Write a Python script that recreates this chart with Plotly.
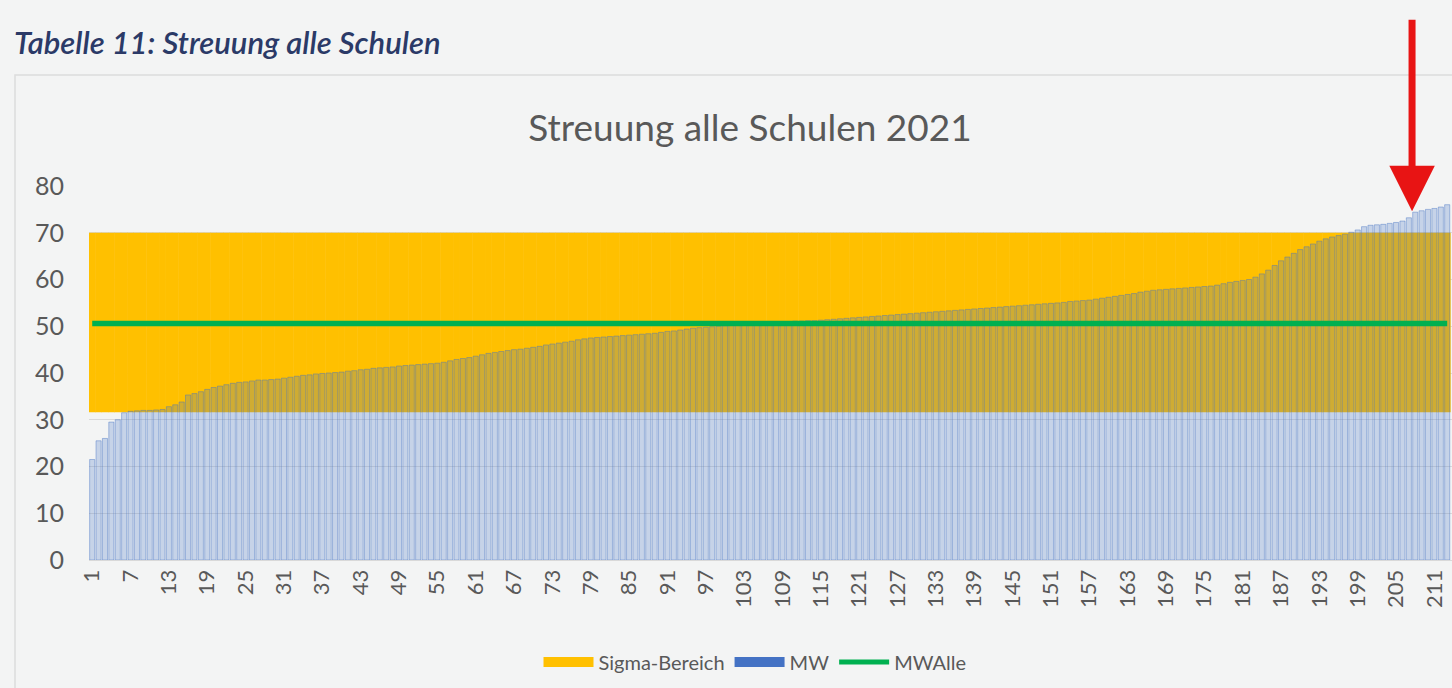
import plotly.graph_objects as go

# ---- data ----
mw_values = [
    21.5, 25.5, 26.0, 29.5, 30.0, 31.5, 31.8, 31.9, 32.0, 32.0,
    32.1, 32.2, 32.8, 33.2, 33.8, 35.3, 35.6, 36.0, 36.5, 36.9,
    37.2, 37.5, 37.8, 38.0, 38.1, 38.3, 38.5, 38.5, 38.6, 38.7,
    38.9, 39.1, 39.3, 39.5, 39.6, 39.8, 39.9, 40.0, 40.1, 40.2,
    40.4, 40.5, 40.7, 40.8, 41.0, 41.1, 41.2, 41.3, 41.5, 41.6,
    41.7, 41.8, 41.9, 42.0, 42.1, 42.3, 42.6, 42.9, 43.1, 43.3,
    43.6, 43.9, 44.2, 44.4, 44.6, 44.8, 45.0, 45.1, 45.3, 45.5,
    45.7, 46.0, 46.2, 46.4, 46.6, 46.8, 47.1, 47.3, 47.5, 47.6,
    47.7, 47.8, 47.9, 48.0, 48.1, 48.2, 48.3, 48.4, 48.5, 48.7,
    48.9, 49.0, 49.2, 49.4, 49.6, 49.7, 49.8, 49.9, 50.0, 50.1,
    50.2, 50.3, 50.4, 50.5, 50.6, 50.7, 50.8, 50.9, 51.0, 51.0,
    51.1, 51.1, 51.2, 51.2, 51.3, 51.4, 51.5, 51.6, 51.7, 51.8,
    51.9, 52.0, 52.1, 52.2, 52.3, 52.4, 52.5, 52.6, 52.7, 52.8,
    52.9, 53.0, 53.1, 53.2, 53.3, 53.4, 53.5, 53.6, 53.7, 53.8,
    53.9, 54.0, 54.1, 54.2, 54.3, 54.4, 54.5, 54.6, 54.7, 54.8,
    54.9, 55.0, 55.1, 55.3, 55.4, 55.5, 55.6, 55.8, 56.0, 56.2,
    56.4, 56.6, 56.8, 57.0, 57.3, 57.5, 57.7, 57.8, 57.9, 58.0,
    58.1, 58.2, 58.3, 58.4, 58.5, 58.6, 58.8, 59.1, 59.4, 59.6,
    59.8, 60.0, 60.5, 61.2, 62.0, 63.0, 64.0, 64.8, 65.6, 66.4,
    67.0, 67.6, 68.2, 68.7, 69.1, 69.4, 69.7, 70.1, 70.6, 71.3,
    71.6, 71.7, 71.8, 72.0, 72.2, 72.5, 73.2, 74.4, 74.7, 75.0,
    75.2, 75.5, 76.0,
]
schools = list(range(1, len(mw_values) + 1))
sigma_low = 31.6
sigma_high = 70.0
mw_alle = 50.6
tick_schools = schools[::6]
tick_labels = [str(s) for s in tick_schools]
highlight_school = 207.5
highlight_value = 74.6

title_text = "Streuung alle Schulen 2021"
caption_text = "Tabelle 11: Streuung alle Schulen"

BG = "#f3f4f4"
GREY_TXT = "#595959"
ORANGE = "#FFC000"
BLUE = "#4472C4"
GREEN = "#00B050"

fig = go.Figure()

# Sigma band (as bars so MW bars can sit on top of it)
fig.add_trace(go.Bar(
    x=schools,
    y=[sigma_high - sigma_low] * len(schools),
    base=[sigma_low] * len(schools),
    width=1.08,
    marker=dict(color=ORANGE, line=dict(width=0)),
    name="Sigma-Bereich",
    showlegend=False,
    hoverinfo="skip",
))

# MW bars (semi-transparent)
fig.add_trace(go.Bar(
    x=schools,
    y=mw_values,
    width=0.8,
    marker=dict(color="rgba(68,114,196,0.26)",
                line=dict(color="rgba(68,114,196,0.55)", width=0.8)),
    name="MW",
    showlegend=False,
))

# MWAlle line
fig.add_trace(go.Scatter(
    x=schools,
    y=[mw_alle] * len(schools),
    mode="lines",
    line=dict(color=GREEN, width=5.5),
    name="MWAlle",
    showlegend=False,
))

# legend entries styled like the original (wide colour boxes)
fig.add_trace(go.Scatter(x=[None], y=[None], mode="lines",
                         line=dict(color=ORANGE, width=10), name="Sigma-Bereich"))
fig.add_trace(go.Scatter(x=[None], y=[None], mode="lines",
                         line=dict(color=BLUE, width=10), name="MW"))
fig.add_trace(go.Scatter(x=[None], y=[None], mode="lines",
                         line=dict(color=GREEN, width=5), name="MWAlle"))

plot_l, plot_r = 89, 1452
plot_t, plot_b = 186, 560
W, H = 1452, 688
pw = plot_r - plot_l
ph = plot_b - plot_t


def px_x(px):
    return (px - plot_l) / pw


def px_y(py):
    return (plot_b - py) / ph


fig.update_layout(
    width=W, height=H,
    paper_bgcolor=BG,
    plot_bgcolor=BG,
    barmode="overlay",
    margin=dict(l=plot_l, r=W - plot_r, t=plot_t, b=H - plot_b, pad=0),
    font=dict(family="Lato, 'Open Sans', sans-serif", color=GREY_TXT),
    title=dict(
        text=title_text,
        x=750 / W, xref="container", xanchor="center",
        y=1 - 128 / H, yref="container", yanchor="middle",
        font=dict(size=37, color=GREY_TXT, family="Lato, sans-serif"),
    ),
    xaxis=dict(
        range=[0.5, 213.75],
        tickmode="array",
        tickvals=tick_schools,
        ticktext=tick_labels,
        tickangle=-90,
        tickfont=dict(size=22, color=GREY_TXT),
        showgrid=False,
        zeroline=False,
        showline=True,
        linecolor="#d9d9d9",
        ticks="",
        fixedrange=True,
    ),
    yaxis=dict(
        range=[0, 80],
        dtick=10,
        tickfont=dict(size=25, color=GREY_TXT),
        showgrid=True,
        gridcolor="#d9d9d9",
        gridwidth=1,
        zeroline=False,
        ticks="",
        ticklabelstandoff=24,
        fixedrange=True,
    ),
    legend=dict(
        orientation="h",
        x=px_x(755), xanchor="center",
        y=px_y(662), yanchor="middle",
        font=dict(size=20, color=GREY_TXT),
        bgcolor="rgba(0,0,0,0)",
        itemwidth=50,
        traceorder="normal",
    ),
    showlegend=True,
)

# caption above the chart
fig.add_annotation(
    text=caption_text,
    xref="paper", yref="paper",
    x=px_x(12), y=px_y(42),
    xanchor="left", yanchor="middle",
    showarrow=False,
    font=dict(size=31, color="#2b3a67", family="Lato, sans-serif", style="italic", weight=600),
)

# chart frame
fig.add_shape(
    type="rect", xref="paper", yref="paper",
    x0=px_x(15), x1=px_x(1470), y0=px_y(700), y1=px_y(75),
    line=dict(color="#dcdcdc", width=1.5),
    fillcolor="rgba(0,0,0,0)",
    layer="below",
)

# red arrow marking one school
fig.add_annotation(
    x=highlight_school, y=highlight_value,
    xref="x", yref="y",
    ax=0, ay=-193,
    text="",
    showarrow=True,
    arrowhead=2,
    arrowwidth=7,
    arrowsize=1.3,
    arrowcolor="#e81414",
    standoff=0,
)

fig.write_html(
    "out.html",
    config={"displayModeBar": False},
    post_script="document.body.style.margin='0';document.body.style.overflow='hidden';document.body.style.background='#f3f4f4';",
)
